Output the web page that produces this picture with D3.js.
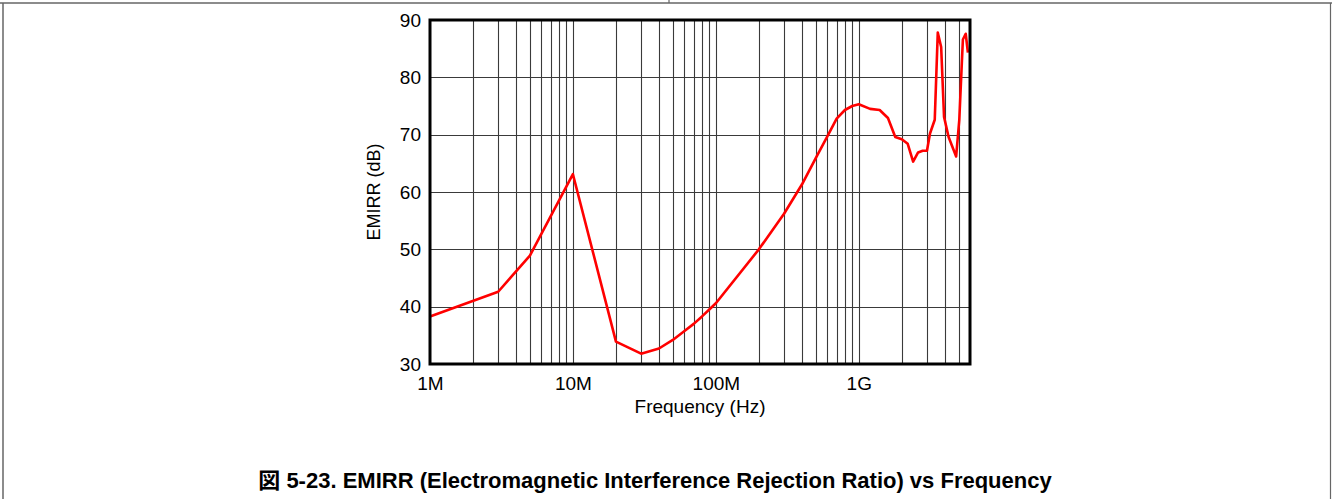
<!DOCTYPE html>
<html>
<head>
<meta charset="utf-8">
<script src="https://cdn.jsdelivr.net/npm/d3@7"></script>
<style>
  html, body { margin: 0; padding: 0; background: #fff; }
  svg { display: block; }
  text { font-family: "Liberation Sans", Arial, sans-serif; }
</style>
</head>
<body>
<script>
// ---- data ----
const freqHz = [1e6, 3e6, 5e6, 10e6, 20e6, 30e6, 40e6, 50e6, 60e6, 70e6, 80e6, 90e6, 100e6,
  200e6, 300e6, 400e6, 500e6, 600e6, 700e6, 800e6, 900e6, 1e9, 1.2e9, 1.4e9, 1.6e9, 1.8e9,
  2.0e9, 2.2e9, 2.4e9, 2.6e9, 2.8e9, 3.0e9, 3.15e9, 3.4e9, 3.57e9, 3.77e9, 3.95e9, 4.25e9,
  4.8e9, 5.05e9, 5.35e9, 5.6e9, 5.8e9];
const emirrDb = [38.3, 42.6, 48.9, 63.1, 33.9, 31.8, 32.7, 34.2, 35.7, 37.0, 38.3, 39.5, 40.6,
  50.0, 56.2, 61.3, 65.9, 69.6, 72.8, 74.3, 75.0, 75.3, 74.5, 74.3, 72.9, 69.6,
  69.2, 68.4, 65.3, 66.9, 67.2, 67.2, 70.2, 72.6, 87.8, 85.3, 73.1, 69.6,
  66.2, 72.6, 86.6, 87.6, 84.3];
const yTicks = [30, 40, 50, 60, 70, 80, 90];
const xTickValues = [1e6, 1e7, 1e8, 1e9];
const xTickLabels = ["1M", "10M", "100M", "1G"];
const xDomain = [1e6, 6e9];
const yDomain = [30, 90];
const xTitle = "Frequency (Hz)";
const yTitle = "EMIRR (dB)";
const caption = "図 5-23. EMIRR (Electromagnetic Interference Rejection Ratio) vs Frequency";

// ---- layout ----
const W = 1332, H = 499;
const L = 430, R = 970, T = 20, B = 364;
const FS = 19;

const svg = d3.select("body").append("svg").attr("width", W).attr("height", H);

// page frame
svg.append("line").attr("x1", 0).attr("x2", W).attr("y1", 3).attr("y2", 3)
  .attr("stroke", "#666").attr("stroke-width", 1.5);
svg.append("line").attr("x1", 669).attr("x2", 669).attr("y1", 0).attr("y2", 3)
  .attr("stroke", "#666").attr("stroke-width", 1.2);
svg.append("line").attr("x1", 3).attr("x2", 3).attr("y1", 3).attr("y2", H)
  .attr("stroke", "#666").attr("stroke-width", 1.5);
svg.append("line").attr("x1", 1330.5).attr("x2", 1330.5).attr("y1", 3).attr("y2", H)
  .attr("stroke", "#666").attr("stroke-width", 1.2);

const x = d3.scaleLog().domain(xDomain).range([L, R]);
const y = d3.scaleLinear().domain(yDomain).range([B, T]);

// minor/major vertical grid
const gridX = [];
for (let dec = 1e6; dec <= 1e9; dec *= 10) {
  for (let k = 1; k <= 9; k++) {
    const v = k * dec;
    if (v > xDomain[0] && v < xDomain[1]) gridX.push(v);
  }
}
const grid = svg.append("g");
grid.selectAll("line.vx").data(gridX).enter().append("line")
  .attr("x1", d => Math.round(x(d)) + 0.5).attr("x2", d => Math.round(x(d)) + 0.5)
  .attr("y1", T).attr("y2", B)
  .attr("stroke", "#3a3a3a").attr("stroke-width", 1.1);
grid.selectAll("line.hy").data(yTicks.slice(1, -1)).enter().append("line")
  .attr("x1", L).attr("x2", R)
  .attr("y1", d => Math.round(y(d)) + 0.5).attr("y2", d => Math.round(y(d)) + 0.5)
  .attr("stroke", "#3a3a3a").attr("stroke-width", 1.1);

// curve
const line = d3.line().x((d, i) => x(freqHz[i])).y(d => y(d));
svg.append("path").datum(emirrDb).attr("d", line)
  .attr("fill", "none").attr("stroke", "#ff0000").attr("stroke-width", 2.6)
  .attr("stroke-linejoin", "round");

// frame
svg.append("rect").attr("x", L).attr("y", T).attr("width", R - L).attr("height", B - T)
  .attr("fill", "none").attr("stroke", "#000").attr("stroke-width", 3);

// axes (labels only)
const xAxis = d3.axisBottom(x).tickValues(xTickValues)
  .tickFormat((d, i) => xTickLabels[i]).tickSize(0).tickPadding(13);
const gx = svg.append("g").attr("transform", `translate(0,${B})`).call(xAxis);
gx.select(".domain").remove();
gx.selectAll("text").attr("font-size", FS).attr("fill", "#000")
  .attr("font-family", "Liberation Sans, Arial, sans-serif");

const yAxis = d3.axisLeft(y).tickValues(yTicks).tickSize(0).tickPadding(9);
const gy = svg.append("g").attr("transform", `translate(${L},0)`).call(yAxis);
gy.select(".domain").remove();
gy.selectAll("text").attr("font-size", FS).attr("fill", "#000")
  .attr("font-family", "Liberation Sans, Arial, sans-serif");

// titles
svg.append("text").attr("x", (L + R) / 2).attr("y", 413).attr("text-anchor", "middle")
  .attr("font-size", FS).text(xTitle);
svg.append("text").attr("transform", `translate(380,${(T + B) / 2}) rotate(-90)`)
  .attr("text-anchor", "middle").attr("font-size", 18).text(yTitle);

// caption
svg.append("text").attr("x", 655).attr("y", 488).attr("text-anchor", "middle")
  .attr("font-size", 22).attr("font-weight", "bold")
  .style("font-family", "'Liberation Sans', 'Noto Sans CJK JP', Arial, sans-serif")
  .text(caption);
</script>
</body>
</html>
